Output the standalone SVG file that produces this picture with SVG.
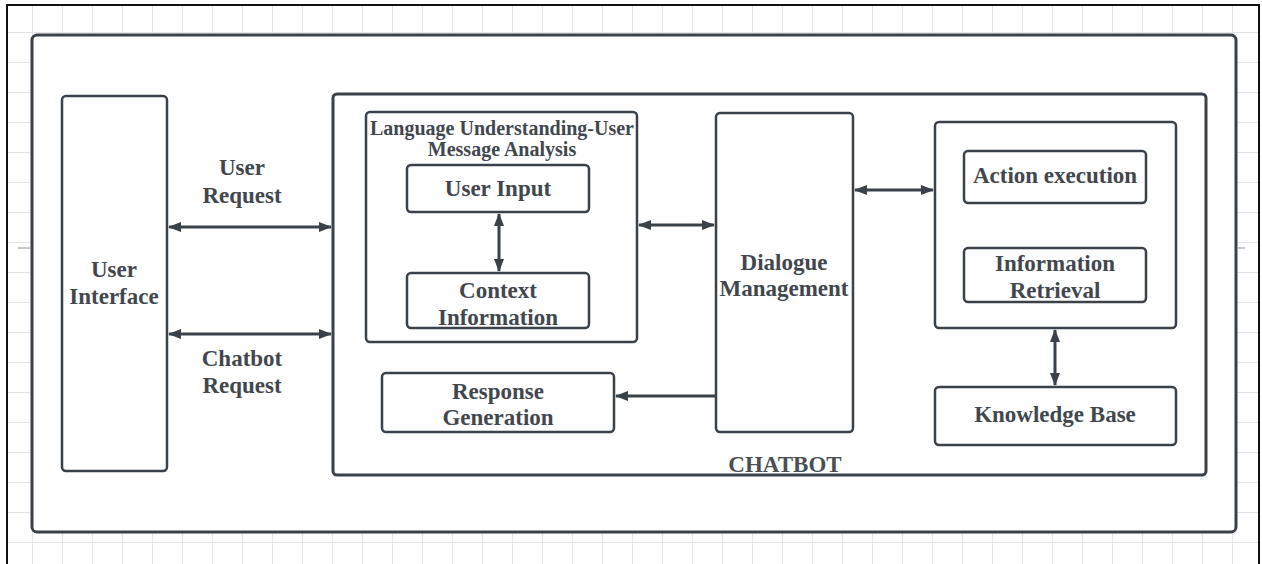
<svg xmlns="http://www.w3.org/2000/svg" width="1262" height="564" viewBox="0 0 1262 564">
<defs>
<pattern id="grid" width="30" height="30" patternUnits="userSpaceOnUse" x="2" y="2">
<path d="M0 0.5H30M0.5 0V30" fill="none" stroke="#e4e4e4" stroke-width="1"/>
</pattern>
<marker id="ah" viewBox="0 0 13 10" refX="12" refY="5" markerWidth="13" markerHeight="10" markerUnits="userSpaceOnUse" orient="auto-start-reverse">
<path d="M0 0L13 5L0 10Z" fill="#3b4149"/>
</marker>
<style>
.box{fill:#fff;stroke:#3b4149;stroke-width:2.5}
.big{fill:#fff;stroke:#3b4149;stroke-width:3}
.t{font-family:"Liberation Serif","Times New Roman",serif;font-weight:bold;font-size:23px;fill:#42474e;text-anchor:middle}
.s{font-size:20px}
.c{stroke:#3b4149;stroke-width:3;fill:none}
</style>
</defs>
<rect x="0" y="0" width="1262" height="564" fill="#fff"/>
<rect x="7" y="5" width="1252" height="570" fill="url(#grid)" stroke="#111" stroke-width="2"/>
<path d="M18 248H30M1238 248H1245" stroke="#c8c8c8" stroke-width="2"/>

<g id="outer"><rect class="big" x="32" y="35" width="1204" height="497" rx="5"/></g>
<g id="user-interface">
<rect class="box" x="62" y="96" width="105" height="375" rx="4"/>
<text class="t" x="114" y="277">User</text>
<text class="t" x="114" y="304">Interface</text>
</g>
<g id="chatbot">
<rect class="big" x="333" y="94" width="873" height="381" rx="4"/>
<text class="t" x="785" y="472" style="fill:#4a4f56">CHATBOT</text>
</g>
<g id="language-understanding">
<rect class="box" x="366" y="112" width="271" height="230" rx="4"/>
<text class="t s" x="502" y="135">Language Understanding-User</text>
<text class="t s" x="502" y="156">Message Analysis</text>
</g>
<g id="user-input">
<rect class="box" x="407" y="165" width="182" height="47" rx="4"/>
<text class="t" x="498" y="196">User Input</text>
</g>
<g id="context-information">
<rect class="box" x="407" y="273" width="182" height="55" rx="4"/>
<text class="t" x="498" y="298">Context</text>
<text class="t" x="498" y="325">Information</text>
</g>
<g id="dialogue-management">
<rect class="box" x="716" y="113" width="137" height="319" rx="4"/>
<text class="t" x="784" y="270">Dialogue</text>
<text class="t" x="784" y="296">Management</text>
</g>
<g id="response-generation">
<rect class="box" x="382" y="373" width="232" height="59" rx="4"/>
<text class="t" x="498" y="399">Response</text>
<text class="t" x="498" y="425">Generation</text>
</g>
<g id="action-container">
<rect class="box" x="935" y="122" width="241" height="206" rx="4"/>
</g>
<g id="action-execution">
<rect class="box" x="964" y="151" width="182" height="52" rx="4"/>
<text class="t" x="1055" y="183">Action execution</text>
</g>
<g id="information-retrieval">
<rect class="box" x="964" y="248" width="182" height="54" rx="4"/>
<text class="t" x="1055" y="271">Information</text>
<text class="t" x="1055" y="298">Retrieval</text>
</g>
<g id="knowledge-base">
<rect class="box" x="935" y="387" width="241" height="58" rx="4"/>
<text class="t" x="1055" y="422">Knowledge Base</text>
</g>
<g id="user-request-label">
<text class="t" x="242" y="175">User</text>
<text class="t" x="242" y="203">Request</text>
</g>
<g id="chatbot-request-label">
<text class="t" x="242" y="366">Chatbot</text>
<text class="t" x="242" y="393">Request</text>
</g>

<g id="connectors">
<line class="c" x1="169" y1="227" x2="331" y2="227" marker-start="url(#ah)" marker-end="url(#ah)"/>
<line class="c" x1="169" y1="334" x2="331" y2="334" marker-start="url(#ah)" marker-end="url(#ah)"/>
<line class="c" x1="499" y1="214" x2="499" y2="271" marker-start="url(#ah)" marker-end="url(#ah)"/>
<line class="c" x1="639" y1="225" x2="714" y2="225" marker-start="url(#ah)" marker-end="url(#ah)"/>
<line class="c" x1="855" y1="190" x2="933" y2="190" marker-start="url(#ah)" marker-end="url(#ah)"/>
<line class="c" x1="1055" y1="330" x2="1055" y2="385" marker-start="url(#ah)" marker-end="url(#ah)"/>
<line class="c" x1="716" y1="396" x2="616" y2="396" marker-end="url(#ah)"/>
</g>
</svg>
